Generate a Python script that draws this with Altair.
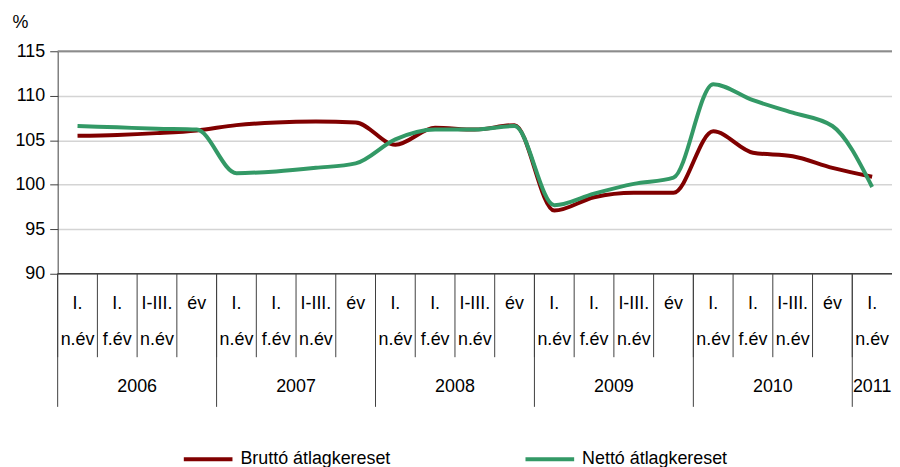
import altair as alt
import pandas as pd

FONT = "Liberation Sans, Arial, sans-serif"

# ---- data -------------------------------------------------------------
row1 = ["I.", "I.", "I-III.", "év",
        "I.", "I.", "I-III.", "év",
        "I.", "I.", "I-III.", "év",
        "I.", "I.", "I-III.", "év",
        "I.", "I.", "I-III.", "év",
        "I."]
row2 = ["n.év", "f.év", "n.év", "",
        "n.év", "f.év", "n.év", "",
        "n.év", "f.év", "n.év", "",
        "n.év", "f.év", "n.év", "",
        "n.év", "f.év", "n.év", "",
        "n.év"]
years = ["2006", "2007", "2008", "2009", "2010", "2011"]
year_sizes = [4, 4, 4, 4, 4, 1]

brutto = [105.5, 105.6, 105.8, 106.1,
          106.7, 107.0, 107.1, 107.0,
          104.5, 106.4, 106.2, 106.7,
          97.1, 98.6, 99.1, 99.1,
          106.0, 103.6, 103.2, 101.9,
          100.9]
netto = [106.6, 106.45, 106.3, 106.2,
         101.3, 101.5, 101.9, 102.4,
         105.1, 106.2, 106.2, 106.6,
         97.7, 99.0, 100.1, 100.8,
         111.3, 109.5, 108.1, 106.6,
         99.75]
series_names = ["Bruttó átlagkereset", "Nettó átlagkereset"]
series_colors = ["#800000", "#339966"]

# ---- tables -----------------------------------------------------------
n = len(row1)
pos = [i + 0.5 for i in range(n)]
lines_df = pd.DataFrame({
    "pos": pos * 2,
    "value": brutto + netto,
    "series": [series_names[0]] * n + [series_names[1]] * n,
    "order": list(range(n)) * 2,
})
cats_df = pd.DataFrame({"pos": pos, "row1": row1, "row2": row2})

year_starts = []
s = 0
for sz in year_sizes:
    year_starts.append(s)
    s += sz
years_df = pd.DataFrame({
    "pos": [st + sz / 2 for st, sz in zip(year_starts, year_sizes)],
    "year": years,
})
small_df = pd.DataFrame({"b": list(range(n))})
big_df = pd.DataFrame({"b": year_starts})

W, H = 840, 224
FS = 18
xscale = alt.Scale(domain=[0, n], nice=False, zero=False)
yscale = alt.Scale(domain=[90, 115], nice=False, zero=False)

y_axis = alt.Axis(
    values=[90, 95, 100, 105, 110, 115],
    grid=True, gridColor="#d4d4d4", gridWidth=1.5,
    domainColor="#404040", tickColor="#404040", tickSize=8,
    labelFont=FONT, labelFontSize=FS, labelColor="#000000", labelPadding=5,
    title="%", titleAngle=0, titleX=-46, titleY=-29, titleAlign="left",
    titleBaseline="middle", titleFont=FONT, titleFontSize=FS,
    titleFontWeight="normal", titleColor="#000000",
)

def X(field):
    return alt.X(field, type="quantitative", scale=xscale, axis=None)

def Y(field):
    return alt.Y(field, type="quantitative", scale=yscale, axis=y_axis)

top_rule = alt.Chart(pd.DataFrame({"v": [115]})).mark_rule(
    color="#8c8c8c", strokeWidth=2
).encode(y=Y("v"), x=alt.value(0), x2=alt.value(W + 4))

bottom_rule = alt.Chart(pd.DataFrame({"v": [90]})).mark_rule(
    color="#404040", strokeWidth=1.5
).encode(y=Y("v"), x=alt.value(0), x2=alt.value(W + 4))

lines = alt.Chart(lines_df).mark_line(
    interpolate="monotone", strokeWidth=4
).encode(
    x=X("pos"), y=Y("value"), order="order:Q",
    color=alt.Color(
        "series:N",
        scale=alt.Scale(domain=series_names, range=series_colors),
        legend=alt.Legend(
            orient="none", legendX=125, legendY=384, direction="horizontal",
            title=None, symbolType="stroke", symbolSize=2401,
            symbolStrokeWidth=4, labelFont=FONT, labelFontSize=FS,
            labelColor="#000000", labelOffset=6, columnPadding=127,
            labelLimit=400,
        ),
    ),
)

small_sep = alt.Chart(small_df).mark_rule(color="#404040", strokeWidth=1).encode(
    x=X("b"), y=alt.value(H), y2=alt.value(H + 84)
)
big_sep = alt.Chart(big_df).mark_rule(color="#404040", strokeWidth=1).encode(
    x=X("b"), y=alt.value(H), y2=alt.value(H + 134)
)

txt = dict(font=FONT, fontSize=FS, color="#000000", align="center", baseline="middle")
t1 = alt.Chart(cats_df).mark_text(**txt).encode(x=X("pos"), y=alt.value(254), text="row1:N")
t2 = alt.Chart(cats_df).mark_text(**txt).encode(x=X("pos"), y=alt.value(291), text="row2:N")
t3 = alt.Chart(years_df).mark_text(**txt).encode(x=X("pos"), y=alt.value(338), text="year:N")

chart = alt.layer(
    top_rule, lines, bottom_rule, small_sep, big_sep, t1, t2, t3
).properties(
    width=W, height=H,
    autosize=alt.AutoSizeParams(type="none"),
    padding={"left": 50, "top": 42, "right": 0, "bottom": 193},
).configure_view(stroke=None)

chart.save("out.html", embed_options={"renderer": "svg", "actions": False})
